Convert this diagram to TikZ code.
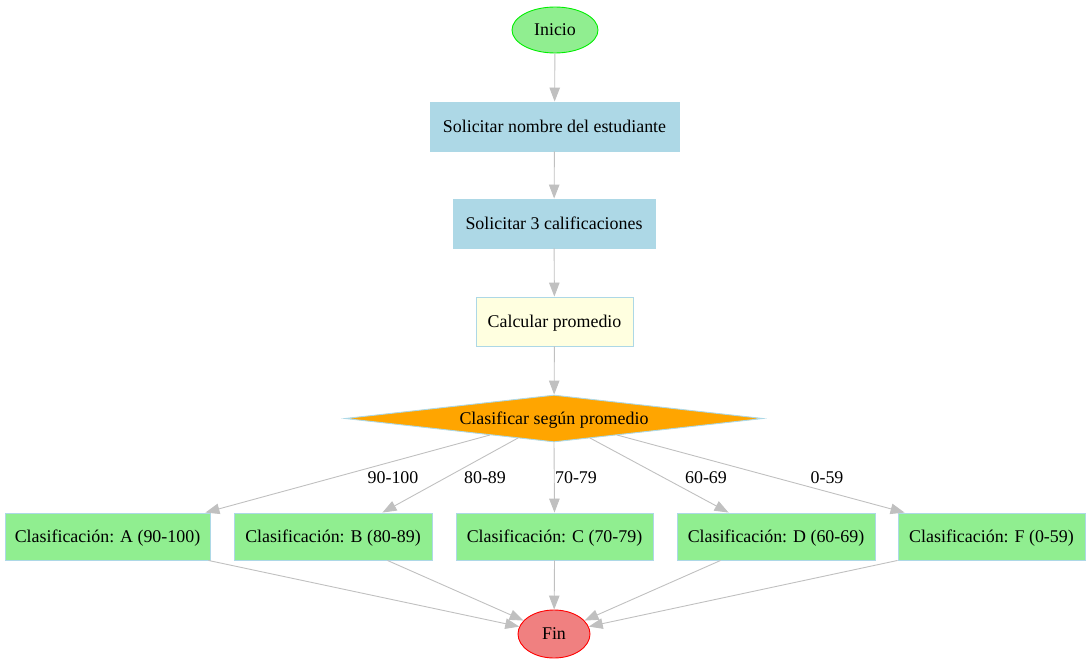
\documentclass[tikz,border=0pt]{standalone}
\usepackage{fontspec}
\setmainfont{Liberation Serif}
\usetikzlibrary{shapes.geometric,arrows.meta,calc}
\definecolor{lgreen}{HTML}{90EE90}
\definecolor{lblue}{HTML}{ADD8E6}
\definecolor{lyellow}{HTML}{FFFFE0}
\definecolor{lcoral}{HTML}{F08080}
\definecolor{orng}{HTML}{FFA500}
\definecolor{edgegray}{HTML}{C0C0C0}
\definecolor{gborder}{HTML}{00EE00}
\tikzset{
  txt/.style={font=\fontsize{17.9}{21}\selectfont, inner sep=0pt, text height=11.8pt, text depth=0pt},
  boxnode/.style={txt, rectangle, draw=lblue, line width=0.9pt, minimum height=49pt},
  procbox/.style={boxnode, fill=lblue},
  calcbox/.style={boxnode, fill=lyellow},
  classbox/.style={boxnode, fill=lgreen, minimum height=47pt},
  startnode/.style={txt, ellipse, fill=lgreen, draw=gborder, line width=0.9pt},
  endnode/.style={txt, ellipse, fill=lcoral, draw=red, line width=0.9pt},
  decnode/.style={txt, diamond, aspect=8.9, fill=orng, draw=lblue, line width=0.9pt},
  conn/.style={draw=edgegray, line width=0.9pt, -{Triangle[length=14pt,width=10.5pt]}},
  lbl/.style={txt}
}
\begin{document}
\begin{tikzpicture}[x=1pt,y=-1pt]
\useasboundingbox (0,0) rectangle (1091,663);
\node[startnode, minimum width=86pt, minimum height=46pt] (ini) at (555,30) {Inicio};
\node[procbox, minimum width=249pt] (nom) at (554.5,126.5) {Solicitar nombre del estudiante};
\node[procbox, minimum width=202pt] (cal) at (554,223.5) {Solicitar 3 calificaciones};
\node[calcbox, minimum width=157pt] (prom) at (554.5,321.5) {Calcular promedio};
\node[decnode, minimum width=418pt, minimum height=47pt] (dec) at (554,418.5) {Clasificar según promedio};
\node[classbox, minimum width=205pt] (ca) at (107.5,536.5) {Clasificación: A (90-100)};
\node[classbox, minimum width=198pt] (cb) at (333,536.5) {Clasificación: B (80-89)};
\node[classbox, minimum width=197pt] (cc) at (554.5,536.5) {Clasificación: C (70-79)};
\node[classbox, minimum width=198pt] (cd) at (776,536.5) {Clasificación: D (60-69)};
\node[classbox, minimum width=187pt] (cf) at (991.5,536.5) {Clasificación: F (0-59)};
\node[endnode, minimum width=72pt, minimum height=48pt] (fin) at (554,634) {Fin};
\node[lbl] (la) at (393,478) {90-100};
\node[lbl] (lb) at (485,478) {80-89};
\node[lbl] (lc) at (576,478) {70-79};
\node[lbl] (ld) at (706,478) {60-69};
\node[lbl] (lf) at (827,478) {0-59};
\draw[conn] (ini) -- (nom);
\draw[conn] (nom) -- (cal);
\draw[conn] (cal) -- (prom);
\draw[conn] (prom) -- (dec);
\draw[conn] ($(dec.center)+(-64,16.5)$) -- ($(ca.north east)+(-5,0)$);
\draw[conn] ($(dec.center)+(-36,19.5)$) -- ($(cb.north east)+(-50,0)$);
\draw[conn] (dec.south) -- (cc.north);
\draw[conn] ($(dec.center)+(36,19.5)$) -- ($(cd.north west)+(52,0)$);
\draw[conn] ($(dec.center)+(63,16.5)$) -- ($(cf.north west)+(7,0)$);
\draw[conn] ($(ca.south east)+(-2,0)$) -- (fin);
\draw[conn] ($(cb.south east)+(-45,0)$) -- (fin);
\draw[conn] (cc.south) -- (fin);
\draw[conn] ($(cd.south west)+(44,0)$) -- (fin);
\draw[conn] ($(cf.south west)+(0,0)$) -- (fin);
\end{tikzpicture}
\end{document}
